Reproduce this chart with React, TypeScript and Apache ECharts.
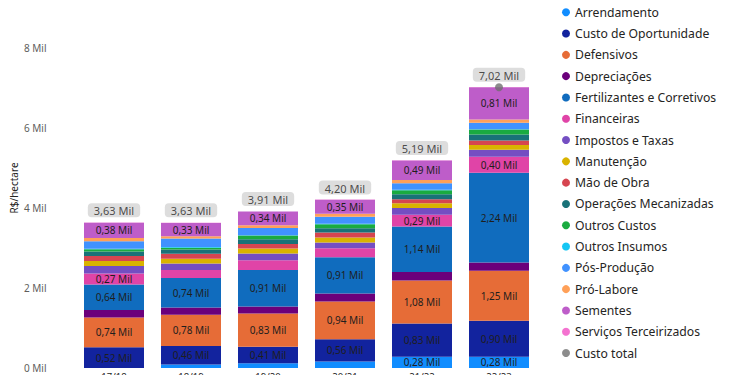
import React, { useEffect, useRef } from "react";
import * as echarts from "echarts";

const categories = ["17/18", "18/19", "19/20", "20/21", "21/22", "22/23"];

const seriesNames = [
  "Arrendamento",
  "Custo de Oportunidade",
  "Defensivos",
  "Depreciações",
  "Fertilizantes e Corretivos",
  "Financeiras",
  "Impostos e Taxas",
  "Manutenção",
  "Mão de Obra",
  "Operações Mecanizadas",
  "Outros Custos",
  "Outros Insumos",
  "Pós-Produção",
  "Pró-Labore",
  "Sementes",
  "Serviços Terceirizados",
];

const colors = [
  "#118DFF",
  "#12239E",
  "#E66C37",
  "#6B007B",
  "#106CBE",
  "#E044A7",
  "#744EC2",
  "#D9B300",
  "#D64550",
  "#197278",
  "#1AAB40",
  "#15C6F4",
  "#4092FF",
  "#FFA058",
  "#BE5DC9",
  "#F472D0",
];

const arrendamento = [0, 90, 120, 160, 280, 280];
const custoOportunidade = [520, 460, 410, 560, 830, 900];
const defensivos = [740, 780, 830, 940, 1080, 1250];
const depreciacoes = [190, 180, 180, 200, 210, 210];
const fertilizantes = [640, 740, 910, 910, 1140, 2240];
const financeiras = [270, 200, 245, 225, 290, 400];
const impostos = [190, 160, 170, 140, 170, 175];
const manutencao = [125, 120, 125, 125, 120, 120];
const maoDeObra = [125, 125, 110, 125, 100, 110];
const operacoes = [110, 110, 120, 110, 125, 150];
const outrosCustos = [60, 40, 90, 100, 100, 125];
const outrosInsumos = [10, 20, 10, 10, 10, 10];
const posProducao = [190, 210, 180, 175, 165, 160];
const proLabore = [80, 60, 70, 75, 80, 80];
const sementes = [380, 330, 340, 350, 490, 810];
const servicos = [5, 5, 5, 5, 5, 5];

const custoTotal = [3630, 3630, 3910, 4200, 5190, 7020];

const seriesValues = [
  arrendamento,
  custoOportunidade,
  defensivos,
  depreciacoes,
  fertilizantes,
  financeiras,
  impostos,
  manutencao,
  maoDeObra,
  operacoes,
  outrosCustos,
  outrosInsumos,
  posProducao,
  proLabore,
  sementes,
  servicos,
];

const FONT = "Noto Sans";
const fmtMil = (v: number) => (v / 1000).toFixed(2).replace(".", ",") + " Mil";

export default function App() {
  const ref = useRef<HTMLDivElement>(null);

  useEffect(() => {
    if (!ref.current) return;
    const chart = echarts.init(ref.current, undefined, { renderer: "svg" });

    const barSeries = seriesNames.map((name, i) => ({
      name,
      type: "bar",
      stack: "total",
      barWidth: 60,
      itemStyle: { color: colors[i] },
      label: {
        show: true,
        position: "inside",
        color: "#1F1E1D",
        fontSize: 10,
        fontFamily: FONT,
        formatter: (p: any) => (p.value >= 260 ? fmtMil(p.value) : ""),
      },
      data: seriesValues[i],
    }));

    const last = custoTotal.length - 1;
    const totalSeries = {
      name: "Custo total",
      type: "scatter",
      itemStyle: { color: "#6F6F6F" },
      symbol: "circle",
      z: 5,
      label: {
        show: true,
        position: "top",
        formatter: (p: any) => fmtMil(p.value),
        color: "#252423",
        fontSize: 11,
        fontFamily: FONT,
        backgroundColor: "#D4D4D4",
        borderRadius: 4,
        padding: [2, 6, 1, 6],
      },
      data: custoTotal.map((v, i) =>
        i === last
          ? { value: v, symbolSize: 8, label: { distance: 1.5 } }
          : { value: v, symbolSize: 1, itemStyle: { color: "rgba(0,0,0,0)" }, label: { distance: 5 } }
      ),
    };

    chart.setOption({
      animation: false,
      textStyle: { fontFamily: FONT },
      grid: { left: 75.5, right: 199.5, top: 48, bottom: 15, containLabel: false },
      legend: {
        orient: "vertical",
        left: 557,
        top: 0,
        icon: "circle",
        itemWidth: 8,
        itemHeight: 8,
        itemGap: 6.8,
        itemTextGap: 2,
        textStyle: { color: "#252423", fontSize: 12.2, fontFamily: FONT, lineHeight: 14.5 },
        data: [...seriesNames, "Custo total"],
      },
      xAxis: {
        type: "category",
        data: categories,
        axisLine: { show: false },
        axisTick: { show: false },
        axisLabel: { color: "#252423", fontSize: 9.5, fontFamily: FONT, margin: 3, lineHeight: 11 },
      },
      yAxis: {
        type: "value",
        min: 0,
        max: 8000,
        interval: 2000,
        splitLine: { show: false },
        axisLine: { show: false },
        axisLabel: {
          color: "#605E5C",
          fontSize: 10,
          fontFamily: FONT,
          margin: 29,
          formatter: (v: number) => v / 1000 + " Mil",
        },
      },
      graphic: [
        {
          type: "text",
          x: 14,
          y: 188,
          rotation: Math.PI / 2,
          style: {
            text: "R$/hectare",
            fill: "#252423",
            font: `10px "${FONT}"`,
            textAlign: "center",
            textVerticalAlign: "middle",
          },
        },
      ],
      series: [...barSeries, totalSeries],
    });

    return () => chart.dispose();
  }, []);

  return <div ref={ref} style={{ width: 737, height: 383, margin: -8 }} />;
}
